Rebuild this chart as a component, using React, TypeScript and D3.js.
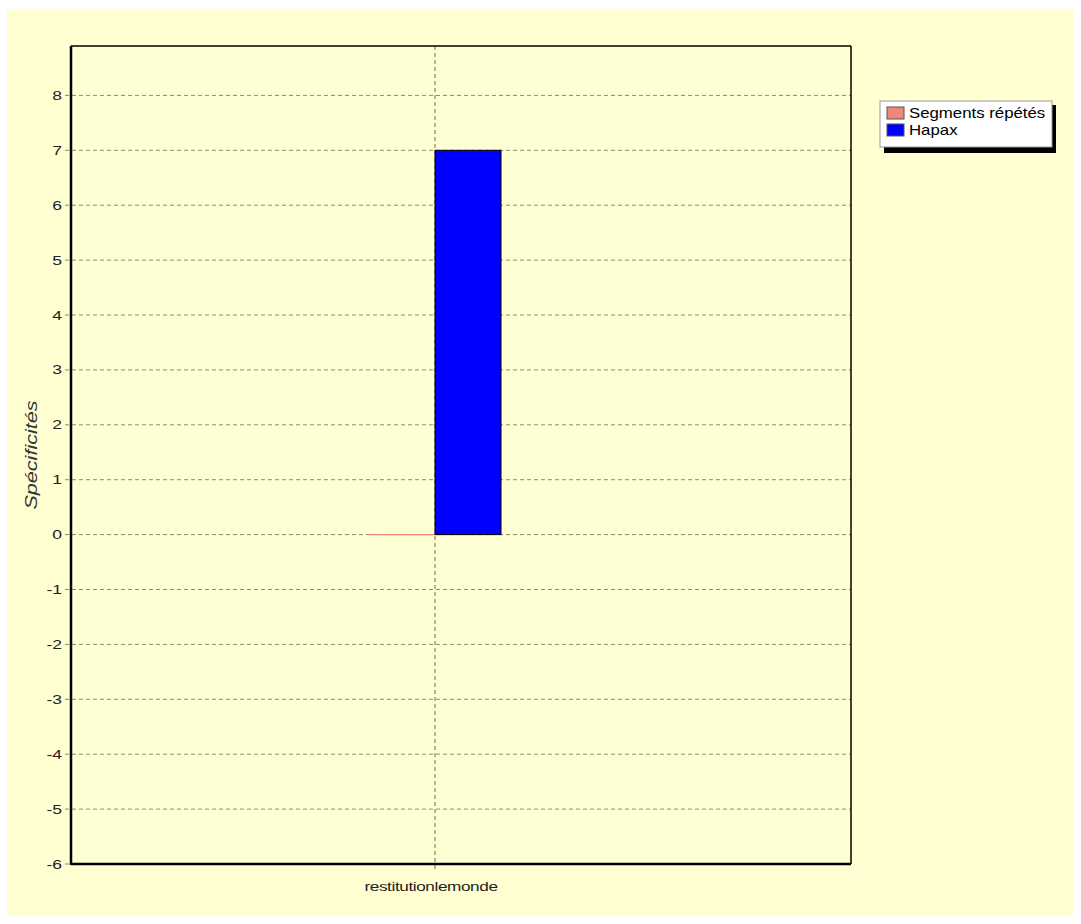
import React from "react";
import * as d3 from "d3";

const categories = ["restitutionlemonde"];
const seriesNames = ["Segments répétés", "Hapax"];
const segmentsRepetes = [0];
const hapax = [7];
const yTicks = [8, 7, 6, 5, 4, 3, 2, 1, 0, -1, -2, -3, -4, -5, -6];
const colors = ["#F08878", "#0000FF"];

export default function App() {
  const W = 1081, H = 924;
  const left = 71, right = 851, top = 46, bottom = 864;
  const y = d3.scaleLinear().domain([-6, 8.9]).range([bottom, top]);
  const x = d3.scaleBand().domain(categories).range([left, 799]);
  const seriesData = [segmentsRepetes, hapax];
  const inner = d3.scaleBand().domain(seriesNames).range([-66, 66]);
  const font = "Arial, 'Liberation Sans', sans-serif";
  return (
    <svg width={W} height={H} style={{ position: "absolute", left: 0, top: 0 }} fontFamily={font}>
      <rect x={0} y={0} width={W} height={H} fill="#ffffff" />
      <rect x={7} y={9} width={1066} height={907} fill="#FFFFD2" />
      <rect x={left} y={top} width={right - left} height={bottom - top} fill="#FFFFD4" />
      {yTicks.map((t) => (
        <g key={t}>
          <line x1={left - 6} x2={right} y1={y(t)} y2={y(t)} stroke="#8a8a7a" strokeDasharray="4,3" strokeWidth={1} />
          <g transform={`translate(${left - 9},${y(t)}) scale(1.35,1)`}>
            <text x={0} y={0} dy="0.35em" textAnchor="end" fontSize={13} fill="#222">{t}</text>
          </g>
        </g>
      ))}
      {categories.map((c) => (
        <g key={c}>
          <line x1={x(c)! + x.bandwidth() / 2} x2={x(c)! + x.bandwidth() / 2} y1={top} y2={bottom + 8} stroke="#6a6a5a" strokeDasharray="4,3" />
          <g transform={`translate(${x(c)! + x.bandwidth() / 2 - 4},${bottom + 27}) scale(1.32,1)`}>
            <text x={0} y={0} textAnchor="middle" fontSize={13} fill="#222" letterSpacing="-0.3">{c}</text>
          </g>
        </g>
      ))}
      {categories.map((c, ci) =>
        seriesNames.map((s, si) => {
          const v = seriesData[si][ci];
          const cx = x(c)! + x.bandwidth() / 2;
          const x0 = cx + inner(s)!;
          const y0 = y(Math.max(0, v));
          const h = Math.abs(y(v) - y(0));
          if (h < 1) {
            return <line key={s} x1={x0} x2={x0 + inner.bandwidth()} y1={y(0)} y2={y(0)} stroke={colors[si]} strokeWidth={1.2} />;
          }
          return <rect key={s} x={x0} y={y0} width={inner.bandwidth()} height={h} fill={colors[si]} stroke="#000" strokeWidth={1} />;
        })
      )}
      <line x1={left} x2={right} y1={top} y2={top} stroke="#000" strokeWidth={1.5} />
      <line x1={right} x2={right} y1={top} y2={bottom} stroke="#000" strokeWidth={1.5} />
      <line x1={left} x2={left} y1={top} y2={bottom + 1} stroke="#000" strokeWidth={2.5} />
      <line x1={left} x2={right} y1={bottom} y2={bottom} stroke="#000" strokeWidth={2.5} />
      <g transform={`translate(37,${(top + bottom) / 2}) rotate(-90) scale(1.35,1)`}>
        <text x={0} y={0} textAnchor="middle" fontSize={16} fontStyle="italic" fill="#333">Spécificités</text>
      </g>
      <g transform="translate(880,101)">
        <rect x={4} y={4} width={172} height={48} fill="#000" />
        <rect x={0} y={0} width={172} height={46} fill="#fff" stroke="#999" />
        {seriesNames.map((s, i) => (
          <g key={s} transform={`translate(7,${6 + i * 17})`}>
            <rect x={0} y={0} width={17} height={12} fill={colors[i]} stroke="#555" />
            <g transform="translate(22,6.5) scale(1.2,1)">
              <text x={0} y={0} dy="0.35em" fontSize={14} fill="#000">{s}</text>
            </g>
          </g>
        ))}
      </g>
    </svg>
  );
}
